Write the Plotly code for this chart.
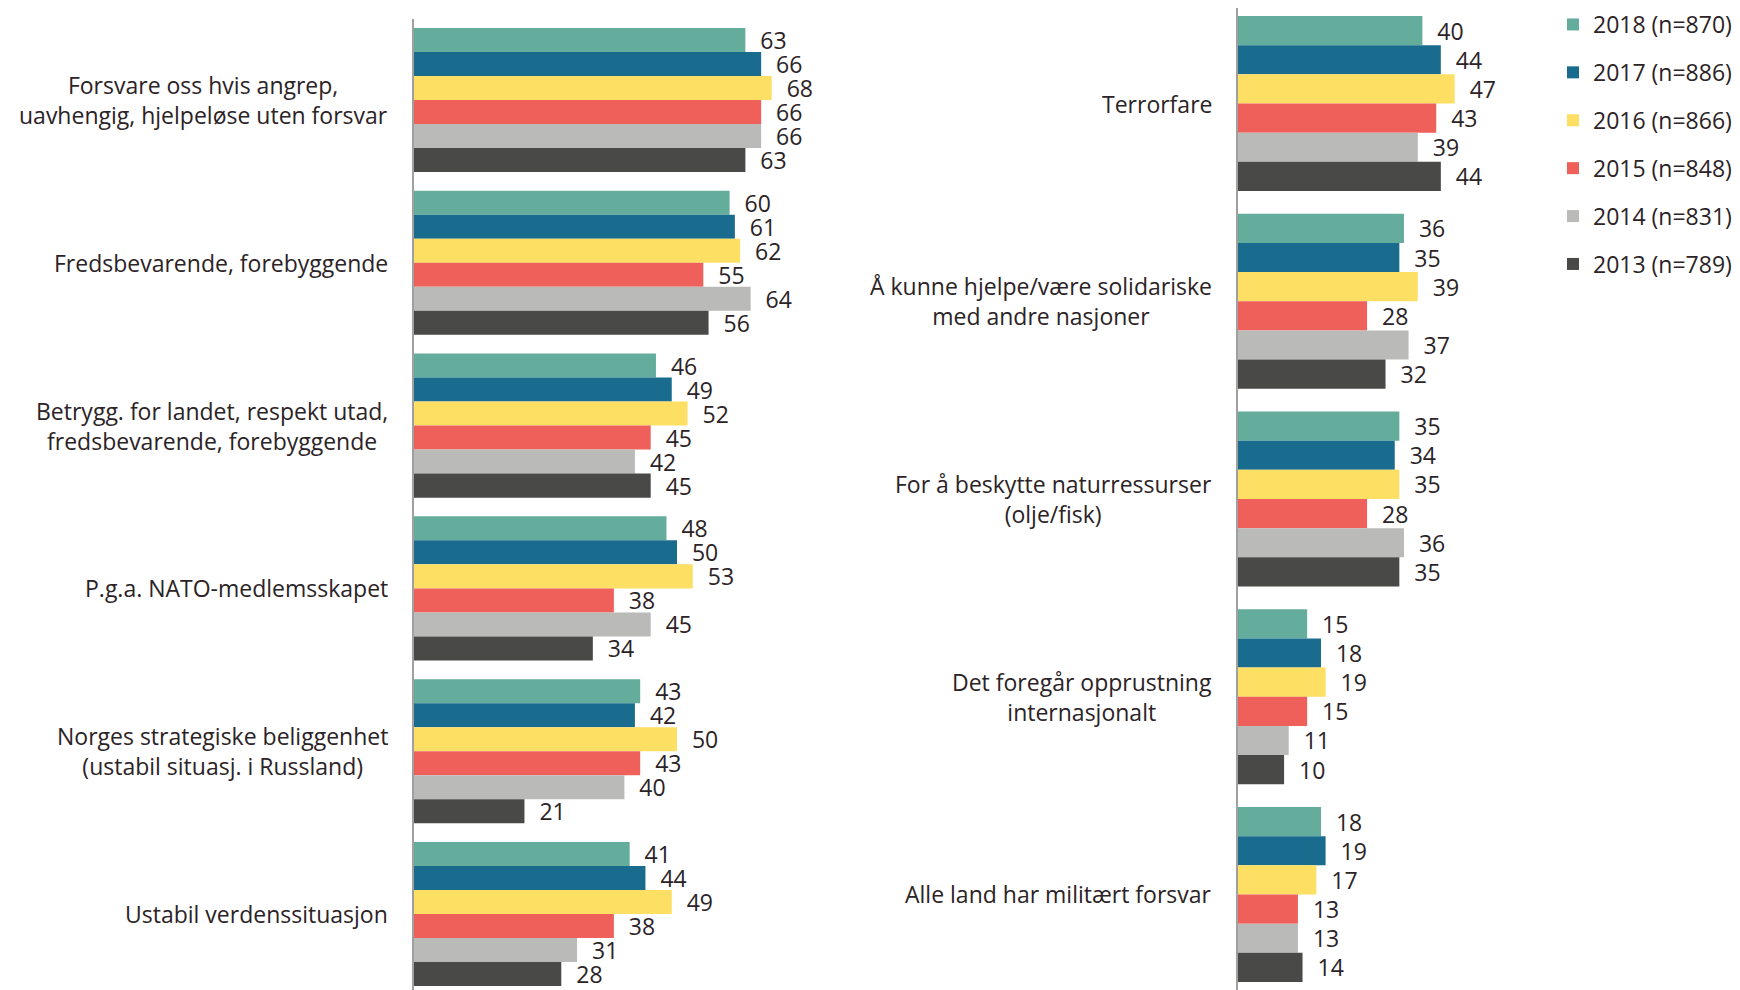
import plotly.graph_objects as go

years = ["2018 (n=870)", "2017 (n=886)", "2016 (n=866)", "2015 (n=848)", "2014 (n=831)", "2013 (n=789)"]
colors = ["#64AC9C", "#1A6C8E", "#FDDF63", "#F0605A", "#BABBB8", "#494A47"]

left_categories = [
    "Forsvare oss hvis angrep,<br>uavhengig, hjelpeløse uten forsvar",
    "Fredsbevarende, forebyggende",
    "Betrygg. for landet, respekt utad,<br>fredsbevarende, forebyggende",
    "P.g.a. NATO-medlemsskapet",
    "Norges strategiske beliggenhet<br>(ustabil situasj. i Russland)",
    "Ustabil verdenssituasjon",
]
left_2018 = [63, 60, 46, 48, 43, 41]
left_2017 = [66, 61, 49, 50, 42, 44]
left_2016 = [68, 62, 52, 53, 50, 49]
left_2015 = [66, 55, 45, 38, 43, 38]
left_2014 = [66, 64, 42, 45, 40, 31]
left_2013 = [63, 56, 45, 34, 21, 28]

right_categories = [
    "Terrorfare",
    "Å kunne hjelpe/være solidariske<br>med andre nasjoner",
    "For å beskytte naturressurser<br>(olje/fisk)",
    "Det foregår opprustning<br>internasjonalt",
    "Alle land har militært forsvar",
]
right_2018 = [40, 36, 35, 15, 18]
right_2017 = [44, 35, 34, 18, 19]
right_2016 = [47, 39, 35, 19, 17]
right_2015 = [43, 28, 28, 15, 13]
right_2014 = [39, 37, 36, 11, 13]
right_2013 = [44, 32, 35, 10, 14]

left_series = [left_2018, left_2017, left_2016, left_2015, left_2014, left_2013]
right_series = [right_2018, right_2017, right_2016, right_2015, right_2014, right_2013]

# page has an 8px body margin, so the figure is drawn 8px in from the window edge
OFF = 8
W, H = 1740 - OFF, 990 - OFF
TXT = "#2B2326"
FONT = "Open Sans"

def px(x):
    return (x - OFF) / W

fig = go.Figure()
for i, (name, col) in enumerate(zip(years, colors)):
    fig.add_trace(go.Bar(
        y=left_categories, x=left_series[i], orientation="h", name=name,
        marker=dict(color=col, line=dict(width=0)),
        texttemplate="\u00a0\u00a0%{x}", textposition="outside", constraintext="none",
        textfont=dict(size=23, color=TXT, family=FONT), cliponaxis=False,
        xaxis="x", yaxis="y", legendgroup=name, showlegend=True,
    ))
for i, (name, col) in enumerate(zip(years, colors)):
    fig.add_trace(go.Bar(
        y=right_categories, x=right_series[i], orientation="h", name=name,
        marker=dict(color=col, line=dict(width=0)),
        texttemplate="\u00a0\u00a0%{x}", textposition="outside", constraintext="none",
        textfont=dict(size=23, color=TXT, family=FONT), cliponaxis=False,
        xaxis="x2", yaxis="y2", legendgroup=name, showlegend=False,
    ))

annotations = []
for c in left_categories:
    annotations.append(dict(text=c, xref="paper", yref="y", x=px(390), y=c,
                            xanchor="right", yanchor="middle", align="center",
                            showarrow=False, font=dict(size=23, color=TXT, family=FONT)))
for c in right_categories:
    annotations.append(dict(text=c, xref="paper", yref="y2", x=px(1214), y=c,
                            xanchor="right", yanchor="middle", align="center",
                            showarrow=False, font=dict(size=23, color=TXT, family=FONT)))

axis_common = dict(showgrid=False, zeroline=False, showticklabels=False, ticks="", showline=False, fixedrange=True)
fig.update_layout(
    width=W, height=H,
    margin=dict(l=0, r=0, t=0, b=0, autoexpand=False),
    paper_bgcolor="white", plot_bgcolor="white",
    barmode="group", bargap=0.115, bargroupgap=0,
    font=dict(family=FONT, color=TXT),
    xaxis=dict(domain=[px(414), px(800)], range=[0, 386 / 5.26], anchor="y", **axis_common),
    yaxis=dict(domain=[0, (990 - 18.6) / H], range=[5.467, -0.5], type="category", anchor="x",
               showgrid=False, zeroline=False, showticklabels=False, ticks="",
               showline=True, linecolor="#A0A0A0", linewidth=1.5),
    xaxis2=dict(domain=[px(1238), px(1560)], range=[0, 322 / 4.61], anchor="y2", **axis_common),
    yaxis2=dict(domain=[0, 1], range=[4.483, -0.483], type="category", anchor="x2",
                showgrid=False, zeroline=False, showticklabels=False, ticks="",
                showline=True, linecolor="#A0A0A0", linewidth=1.5),
    legend=dict(x=px(1553), y=1 + 5 / H, xanchor="left", yanchor="top",
                font=dict(size=23, color=TXT, family=FONT),
                traceorder="grouped", tracegroupgap=15, bgcolor="rgba(0,0,0,0)",
                itemclick=False, itemdoubleclick=False),
    annotations=annotations,
    showlegend=True,
)

fig.write_html("out.html")
